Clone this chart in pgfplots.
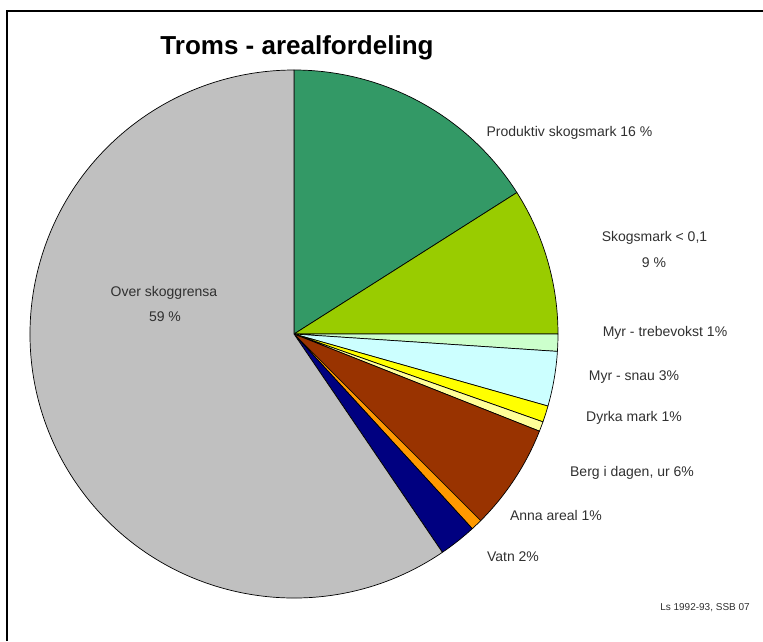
\documentclass[border=0pt]{standalone}
\usepackage{fontspec}
\setmainfont{Liberation Sans}
\usepackage{pgfplots}
\usepackage{pgfplotstable}
\pgfplotsset{compat=1.18}
\definecolor{cProd}{HTML}{339966}
\definecolor{cSkog}{HTML}{99CC00}
\definecolor{cMyrT}{HTML}{CCFFCC}
\definecolor{cMyrS}{HTML}{CCFFFF}
\definecolor{cDyrka}{HTML}{FFFF00}
\definecolor{cPale}{HTML}{FFFF99}
\definecolor{cBerg}{HTML}{993300}
\definecolor{cAnna}{HTML}{FF9900}
\definecolor{cVatn}{HTML}{000080}
\definecolor{cOver}{HTML}{C0C0C0}
\definecolor{txt}{HTML}{303030}
\pgfplotstableread[col sep=comma]{
value,color
16,cProd
9,cSkog
1.05,cMyrT
3.35,cMyrS
1.0,cDyrka
0.6,cPale
6.5,cBerg
0.7,cAnna
2.3,cVatn
59.5,cOver
}\piedata
\newcommand{\lab}{\fontsize{14}{16}\selectfont}
\begin{document}
\begin{tikzpicture}
\begin{axis}[
  at={(0pt,0pt)}, anchor=origin,
  scale only axis, width=763pt, height=641pt,
  xmin=0, xmax=763, ymin=0, ymax=641,
  hide axis, clip=false,
]
\pgfplotstablegetrowsof{\piedata}
\pgfmathtruncatemacro\N{\pgfplotsretval-1}
\def\cum{0}
\pgfplotsforeachungrouped \i in {0,...,\N}{%
  \pgfplotstablegetelem{\i}{value}\of\piedata \let\sliceval\pgfplotsretval
  \pgfplotstablegetelem{\i}{color}\of\piedata \let\slicecol\pgfplotsretval
  \pgfmathsetmacro\sa{90-3.6*\cum}%
  \pgfmathsetmacro\cum{\cum+\sliceval}%
  \pgfmathsetmacro\ea{90-3.6*\cum}%
  \edef\temp{\noexpand\fill[fill=\slicecol, draw=black, line width=0.7pt, line join=round] (axis cs:294,307) -- ++(\sa:264pt) arc[start angle=\sa, end angle=\ea, radius=264pt] -- cycle;}%
  \temp
}
% frame
\draw[line width=2.4pt] (axis cs:7,0) -- (axis cs:7,630) -- (axis cs:763,630);
% title
\node[font=\fontsize{26}{30}\selectfont\bfseries, anchor=base] at (axis cs:297,586) {Troms - arealfordeling};
% labels
\begin{scope}[every node/.style={text=txt, font=\lab, inner sep=0pt}]
\node at (axis cs:569.5,508) {Produktiv skogsmark 16 \%};
\node at (axis cs:654.5,403) {Skogsmark < 0,1};
\node at (axis cs:654,378) {9 \%};
\node at (axis cs:665,308) {Myr - trebevokst 1\%};
\node at (axis cs:634,264) {Myr - snau 3\%};
\node at (axis cs:634,223) {Dyrka mark 1\%};
\node at (axis cs:632,168) {Berg i dagen, ur 6\%};
\node at (axis cs:556,126) {Anna areal 1\%};
\node at (axis cs:513,84) {Vatn 2\%};
\node at (axis cs:164,348) {Over skoggrensa};
\node at (axis cs:165,324) {59 \%};
\node[font=\fontsize{10}{12}\selectfont] at (axis cs:705,33) {Ls 1992-93, SSB 07};
\end{scope}
\end{axis}
\pgfresetboundingbox
\useasboundingbox (0pt,0pt) rectangle (763pt,641pt);
\end{tikzpicture}
\end{document}
